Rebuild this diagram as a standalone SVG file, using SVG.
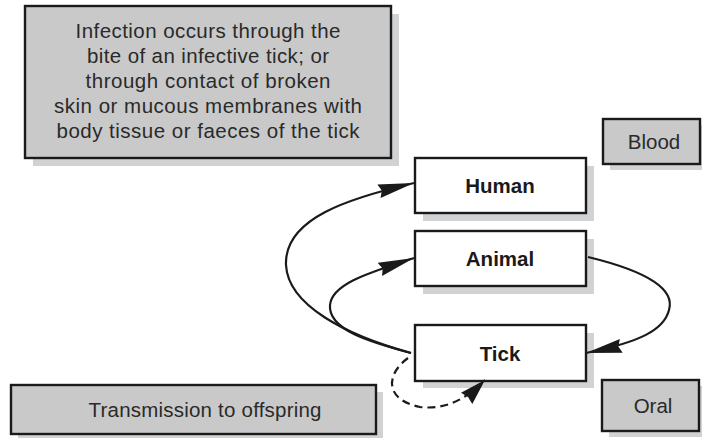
<svg xmlns="http://www.w3.org/2000/svg" width="702" height="438" viewBox="0 0 702 438">
<defs>
<style>
.shadow{fill:#d1d2d4;stroke:none}
.gbox{fill:#c9c9c9;stroke:#1a1a1a;stroke-width:2.4}
.wbox{fill:#ffffff;stroke:#1a1a1a;stroke-width:2.4}
.lt{font-family:"Liberation Sans",Arial,sans-serif;font-size:20.5px;fill:#2a2a2a;text-anchor:middle}
.bd{font-family:"Liberation Sans",Arial,sans-serif;font-size:20.5px;font-weight:bold;fill:#1a1a1a;text-anchor:middle}
.conn{fill:none;stroke:#1a1a1a;stroke-width:2.2}
.dash{stroke-dasharray:8 5}
</style>
<marker id="ah" markerUnits="userSpaceOnUse" markerWidth="38" markerHeight="16" refX="36" refY="8" orient="auto" viewBox="0 0 38 16">
<path d="M0,1 L36,8 L0,15 L3,8 z" fill="#1a1a1a"/>
</marker>
<marker id="ahs" markerUnits="userSpaceOnUse" markerWidth="28" markerHeight="18" refX="26" refY="9" orient="auto" viewBox="0 0 28 18">
<path d="M0,1 L26,9 L0,17 L2,9 z" fill="#1a1a1a"/>
</marker>
</defs>

<g id="info">
<rect class="shadow" x="33" y="14" width="366" height="152"/>
<rect class="gbox" x="25" y="6" width="366" height="152"/>
<text class="lt" x="208" y="38" textLength="265" lengthAdjust="spacing">Infection occurs through the</text>
<text class="lt" x="208" y="63" textLength="242" lengthAdjust="spacing">bite of an infective tick; or</text>
<text class="lt" x="208" y="88" textLength="245" lengthAdjust="spacing">through contact of broken</text>
<text class="lt" x="208" y="113" textLength="308" lengthAdjust="spacing">skin or mucous membranes with</text>
<text class="lt" x="208" y="138" textLength="303" lengthAdjust="spacing">body tissue or faeces of the tick</text>
</g>

<g id="blood">
<rect class="shadow" x="610" y="125" width="97" height="45"/>
<rect class="gbox" x="603" y="119" width="97" height="45"/>
<text class="lt" x="654" y="149">Blood</text>
</g>

<g id="human">
<rect class="shadow" x="423" y="166" width="171" height="55"/>
<rect class="wbox" x="415" y="158" width="171" height="55"/>
<text class="bd" x="500" y="193">Human</text>
</g>

<g id="animal">
<rect class="shadow" x="423" y="239" width="171" height="55"/>
<rect class="wbox" x="415" y="231" width="171" height="55"/>
<text class="bd" x="500" y="266">Animal</text>
</g>

<g id="tick">
<rect class="shadow" x="423" y="333" width="171" height="55"/>
<rect class="wbox" x="415" y="325" width="171" height="56"/>
<text class="bd" x="500" y="361">Tick</text>
</g>

<g id="offspring">
<rect class="shadow" x="18" y="392" width="365" height="49"/>
<rect class="gbox" x="11" y="385" width="365" height="49"/>
<text class="lt" x="205" y="417" textLength="233" lengthAdjust="spacing">Transmission to offspring</text>
</g>

<g id="oral">
<rect class="shadow" x="609" y="386" width="97" height="51"/>
<rect class="gbox" x="602" y="380" width="97" height="51"/>
<text class="lt" x="653" y="413">Oral</text>
</g>

<g id="connectors">
<path class="conn" d="M411,353 C345,335 288,305 286,265 C284,218 350,198 414,183" marker-end="url(#ah)"/>
<path class="conn" d="M411,353 C370,342 328,330 330,305 C332,283 372,272 414,258" marker-end="url(#ah)"/>
<path class="conn" d="M588,257 C650,272 675,290 669,310 C664,330 640,342 586,353" marker-end="url(#ah)"/>
<path class="conn dash" d="M408,358 C385,375 385,400 420,407 C445,410 465,400 485,380" marker-end="url(#ahs)"/>
</g>
</svg>
